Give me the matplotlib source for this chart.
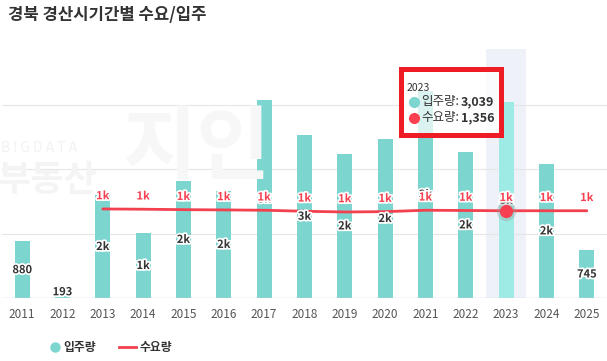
import matplotlib
matplotlib.use("Agg")
import matplotlib.pyplot as plt
import matplotlib.patheffects as pe
from matplotlib.patches import Rectangle
from matplotlib.lines import Line2D

plt.rcParams['font.family'] = ['Noto Sans CJK KR', 'DejaVu Sans']

title = "경북 경산시기간별 수요/입주"
years = ["2011", "2012", "2013", "2014", "2015", "2016", "2017", "2018",
         "2019", "2020", "2021", "2022", "2023", "2024", "2025"]
supply = [880, 193, 1600, 1010, 1820, 1665, 3080, 2540, 2240, 2470, 3220, 2270, 3039, 2085, 745]
demand_years = years[2:]
demand = [1384, 1380, 1373, 1369, 1364, 1348, 1337, 1342, 1364, 1360, 1356, 1356, 1356]
supply_name = "입주량"
demand_name = "수요량"
hover_idx = 12

W, H = 607, 361
fig = plt.figure(figsize=(W / 100, H / 100), dpi=100)
fig.patch.set_facecolor('white')

def fx(px):
    return px / W

def fy(py):
    return 1 - py / H

ax = fig.add_axes([fx(2), fy(298), fx(605), (298 - 49) / H])
ax.set_facecolor('none')

# watermark
fig.text(fx(1), fy(148), "B I G D A T A", fontsize=10, color='#f2f2f2', va='center', ha='left', zorder=0)
fig.text(fx(-2), fy(181), "부동산", fontsize=26, color='#f4f4f4', va='center', ha='left', weight='bold', zorder=0)
fig.text(fx(122), fy(150), "지인", fontsize=58, color='#f7f7f7', va='center', ha='left', weight='bold', zorder=0)

x = list(range(len(years)))
xd = [years.index(y) for y in demand_years]

ax.set_xlim(-0.5, len(years) - 0.5)
ax.set_ylim(0, 3870)

# hover band
ax.axvspan(hover_idx - 0.5, hover_idx + 0.5, color='#eef2f8', zorder=0, lw=0)

for g in [1000, 2000, 3000]:
    ax.axhline(g, color='#e6e6e6', lw=0.8, zorder=0.5)
ax.axhline(0, color='#ccd6eb', lw=1.0, zorder=3)

colors = ['#7dd5cf'] * len(years)
colors[hover_idx] = '#9eebe6'
ax.bar(x, supply, width=0.37, color=colors, zorder=2)

ax.plot(xd, demand, color='#f2404e', lw=2.0, zorder=4, solid_capstyle='round')

stroke = [pe.withStroke(linewidth=2.5, foreground='white')]

def fmt(v):
    if v < 1000:
        return f"{v}"
    return f"{round(v / 1000)}k"

for i, v in zip(x, supply):
    ax.text(i, v / 2, fmt(v), ha='center', va='center', fontsize=8, weight='bold',
            color='#333333', path_effects=stroke, zorder=5)

for i, v in zip(xd, demand):
    ax.annotate(fmt(v), (i, v), xytext=(0, 9.5), textcoords='offset points',
                ha='center', va='center', fontsize=8, weight='bold', color='#f5404f',
                path_effects=stroke, zorder=5)

# hover marker
hv = demand[demand_years.index(years[hover_idx])]
ax.plot([hover_idx], [hv], 'o', ms=14, color='#999999', alpha=0.35, zorder=6, mec='none')
ax.plot([hover_idx], [hv], 'o', ms=9.5, color='#f7404f', zorder=7, mec='none')

ax.set_xticks(x)
ax.set_xticklabels(years, fontsize=8.5, color='#555555')
ax.tick_params(axis='x', length=0, pad=7)
ax.set_yticks([])
for s in ax.spines.values():
    s.set_visible(False)

# title
fig.text(fx(8), fy(15), title, fontsize=12, weight='bold', color='#333333', ha='left', va='center')

# tooltip
box = Rectangle((fx(401), fy(135)), fx(100), 66 / H, transform=fig.transFigure,
                facecolor=(1, 1, 1, 0.72), edgecolor='#ee1c25', lw=3.6, zorder=20)
fig.add_artist(box)
fig.text(fx(407), fy(88), years[hover_idx], fontsize=7.5, color='#333333', ha='left', va='center', zorder=21)
fig.add_artist(Line2D([fx(414)], [fy(102)], marker='o', ms=8, color='#7dd5cf', mec='none',
                      transform=fig.transFigure, zorder=21))
fig.add_artist(Line2D([fx(414)], [fy(118)], marker='o', ms=8, color='#fb4150', mec='none',
                      transform=fig.transFigure, zorder=21))
fig.text(fx(421), fy(102), f"{supply_name}:", fontsize=9, color='#333333', ha='left', va='center', zorder=21)
fig.text(fx(461), fy(102), f"{supply[hover_idx]:,}", fontsize=9, weight='bold', color='#333333', ha='left', va='center', zorder=21)
fig.text(fx(421), fy(118), f"{demand_name}:", fontsize=9, color='#333333', ha='left', va='center', zorder=21)
fig.text(fx(461), fy(118), f"{hv:,}", fontsize=9, weight='bold', color='#333333', ha='left', va='center', zorder=21)

# legend
fig.add_artist(Line2D([fx(55)], [fy(347)], marker='o', ms=7.5, color='#7dd5cf', mec='none',
                      transform=fig.transFigure))
fig.text(fx(63), fy(347), supply_name, fontsize=8.5, weight='bold', color='#333333', ha='left', va='center')
fig.add_artist(Line2D([fx(119), fx(136)], [fy(347), fy(347)], color='#f2404e', lw=2,
                      transform=fig.transFigure))
fig.text(fx(140), fy(347), demand_name, fontsize=8.5, weight='bold', color='#333333', ha='left', va='center')

fig.savefig("out.png", dpi=100)
